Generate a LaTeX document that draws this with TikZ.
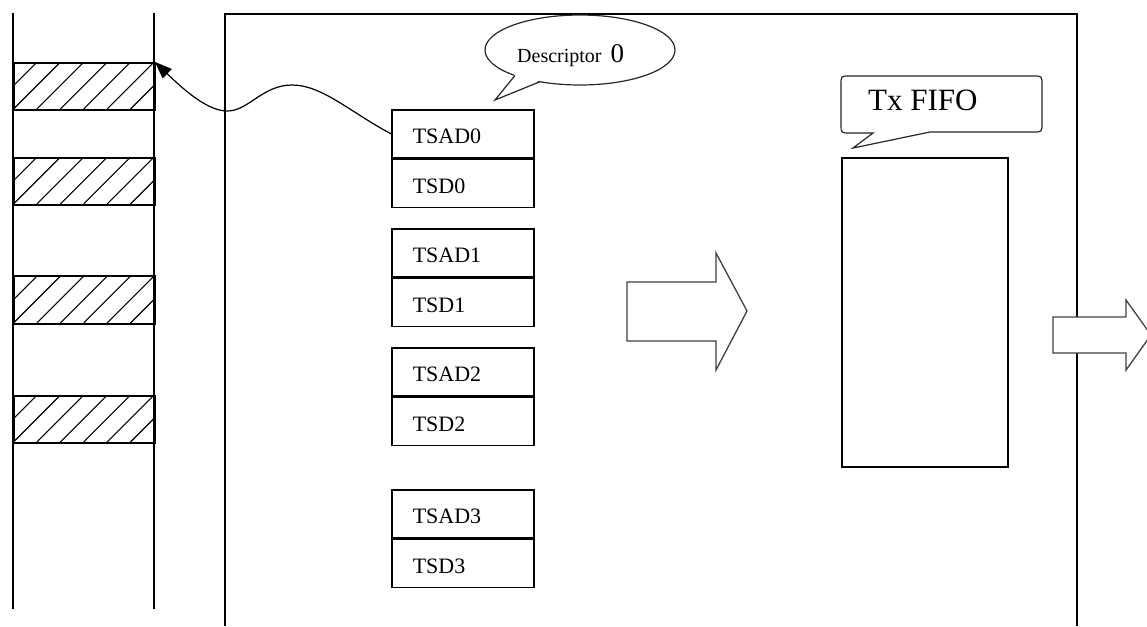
\documentclass[tikz,border=0pt]{standalone}
\usepackage{fontspec}
\setmainfont{Liberation Serif}
\usetikzlibrary{arrows.meta}
\begin{document}
\begin{tikzpicture}[x=1pt,y=-1pt,
  frame/.style={line width=1.6pt, draw=black},
  cell/.style={draw, line width=1.6pt, minimum width=142pt, minimum height=48pt,
    text width=100pt, inner xsep=21pt, inner ysep=0pt, align=left,
    text height=20pt, text depth=0pt, font=\fontsize{22}{24}\selectfont,
    anchor=north west},
  hatchbox/.style={draw, line width=1.6pt, minimum width=141pt, inner sep=0pt, anchor=north west},
  blockarrow/.style={draw=black!75, fill=white, line width=1.3pt, line join=miter},
  callout/.style={draw=black!85, line width=1.2pt, fill=white},
  link/.style={line width=1.2pt, -{Triangle[length=17pt,width=13pt]}}
]
\useasboundingbox (0,0) rectangle (1147,626);
\clip (0,0) rectangle (1147,626);

% memory column
\draw[frame] (13,13) -- (13,609);
\draw[frame] (154,13) -- (154,609);
\foreach \ya/\yb/\nm in {62/109/m0,157/204/m1,275/323/m2,395/442/m3}{
  \begin{scope}
    \clip (13,\ya) rectangle (154,\yb);
    \foreach \k in {-3,...,7}{
      \draw[line width=1.1pt] ({13.5+23.4*\k},\yb) -- ({13.5+23.4*\k+(\yb-\ya)},\ya);
    }
  \end{scope}
  \node[hatchbox, minimum height={\yb-\ya}] (\nm) at (13,\ya) {};
}
\coordinate (mtop) at (155,62);

% big controller box
\draw[frame] (225,626) -- (225,14) -- (1077,14) -- (1077,626);

% descriptor cells
\node[cell] (tsad0) at (391,109) {TSAD0};
\node[cell, anchor=north] (tsd0) at (tsad0.south) {TSD0};
\node[cell] (tsad1) at (391,228) {TSAD1};
\node[cell, anchor=north] (tsd1) at (tsad1.south) {TSD1};
\node[cell] (tsad2) at (391,347) {TSAD2};
\node[cell, anchor=north] (tsd2) at (tsad2.south) {TSD2};
\node[cell] (tsad3) at (391,489) {TSAD3};
\node[cell, anchor=north] (tsd3) at (tsad3.south) {TSD3};

% curved link
\draw[link] (tsad0.west) .. controls (350,112) and (322,85) .. (292,85)
  .. controls (262,85) and (248,112) .. (226,111)
  .. controls (205,110) and (180,86) .. (mtop);

% Descriptor 0 callout
\draw[callout] (580,50) ellipse [x radius=95pt, y radius=35pt];
\fill[white] (495,100) -- (515,74) -- (541,80) -- cycle;
\draw[draw=black!85, line width=1.2pt, line join=miter] (515,75.5) -- (495,100) -- (540,81.7);
\node[font=\fontsize{20}{22}\selectfont, anchor=base west, inner sep=0pt] (desc) at (517,63)
  {Descriptor\hspace{9pt}{\fontsize{27}{29}\selectfont 0}};

% block arrow 1
\draw[blockarrow] (627,282) -- (716,282) -- (716,253) -- (747,311) -- (716,370)
  -- (716,341) -- (627,341) -- cycle;

% Tx FIFO callout
\draw[callout, line join=miter] (849,76) -- (1033,76) .. controls (1042,76) .. (1042,85) -- (1042,123)
  .. controls (1042,132) .. (1033,132) -- (930,132) -- (853,148) -- (873,133) -- (850,133)
  .. controls (841,133) .. (841,124) -- (841,85) .. controls (841,76) .. (849,76) -- cycle;
\node[font=\fontsize{31}{33}\selectfont, anchor=base west, inner sep=0pt] (txl) at (868,110) {Tx FIFO};

% FIFO box
\node[draw, line width=1.6pt, minimum width=166pt, minimum height=309pt, inner sep=0pt,
  anchor=north west] (fifo) at (841,157) {};

% block arrow 2
\draw[blockarrow] (1053,317) -- (1126,317) -- (1126,300) -- (1151,335) -- (1126,370)
  -- (1126,353) -- (1053,353) -- cycle;
\end{tikzpicture}
\end{document}
